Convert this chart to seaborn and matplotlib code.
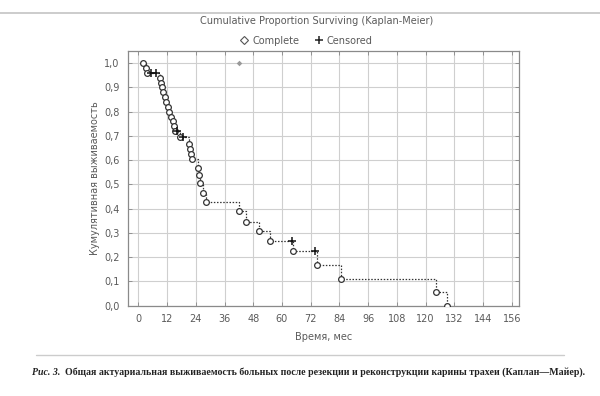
import matplotlib
matplotlib.use("Agg")
import matplotlib.pyplot as plt
import seaborn as sns
import pandas as pd
from matplotlib.lines import Line2D

# ---- data ----
complete_t = [2.0, 3.0, 3.5, 9.0, 9.3, 9.7, 10.3, 11.0, 11.7, 12.3, 13.0, 13.8, 14.4, 14.7,
              15.3, 17.4, 21.3, 21.6, 21.8, 22.3, 25.0, 25.4, 25.6, 27.2, 28.3,
              42.0, 45.0, 50.2, 55.0, 64.8, 74.8, 84.6, 124.5, 129.0]
complete_s = [1.00, 0.98, 0.96, 0.94, 0.92, 0.90, 0.88, 0.86, 0.84, 0.82, 0.80, 0.78, 0.76, 0.74,
              0.72, 0.697, 0.665, 0.645, 0.627, 0.606, 0.566, 0.537, 0.507, 0.466, 0.427,
              0.392, 0.347, 0.307, 0.268, 0.224, 0.168, 0.110, 0.055, 0.0]
censored_t = [5.3, 7.3, 16.0, 18.6, 64.0, 73.9]
censored_s = [0.96, 0.96, 0.72, 0.697, 0.268, 0.224]
stray_t = [42.0]
stray_s = [1.0]

x_ticks = [0, 12, 24, 36, 48, 60, 72, 84, 96, 108, 120, 132, 144, 156]
y_ticks = [0.0, 0.1, 0.2, 0.3, 0.4, 0.5, 0.6, 0.7, 0.8, 0.9, 1.0]

title = "Cumulative Proportion Surviving (Kaplan-Meier)"
xlabel = "Время, мес"
ylabel = "Кумулятивная выживаемость"
caption_a = "Рис. 3."
caption_b = "Общая актуариальная выживаемость больных после резекции и реконструкции карины трахеи (Каплан—Майер)."

# ---- frames ----
comp = pd.DataFrame({"t": complete_t, "s": complete_s})
cens = pd.DataFrame({"t": censored_t, "s": censored_s})
allp = pd.concat([comp, cens]).sort_values(["t", "s"], ascending=[True, False]).reset_index(drop=True)

sns.set_theme(style="white")
plt.rcParams['font.family'] = ['DejaVu Sans']
txt = "#5a5a5a"

fig = plt.figure(figsize=(6.0, 3.96), dpi=100)
ax = fig.add_axes([0.213, 0.228, 0.652, 0.643])

sns.lineplot(data=allp, x="t", y="s", estimator=None, sort=False, drawstyle="steps-post",
             color="#333333", linestyle=(0, (1.2, 1.3)), linewidth=0.9, ax=ax, zorder=2)
sns.scatterplot(data=comp, x="t", y="s", marker="o", s=17, facecolor="white",
                edgecolor="#333333", linewidth=0.9, ax=ax, zorder=3)
sns.scatterplot(data=cens, x="t", y="s", marker="+", s=28, color="#111111",
                linewidth=1.1, ax=ax, zorder=4)
sns.scatterplot(x=stray_t, y=stray_s, marker="D", s=8, color="#999999",
                linewidth=0, ax=ax, zorder=4)

ax.set_xlim(-4.4, 159)
ax.set_ylim(0.0, 1.05)
ax.set_xticks(x_ticks)
ax.set_yticks(y_ticks)
ax.set_xticklabels([str(v) for v in x_ticks])
ax.set_yticklabels([f"{v:.1f}".replace(".", ",") for v in y_ticks])
ax.grid(True, color="#cfcfcf", linewidth=0.8)
ax.set_axisbelow(True)
ax.tick_params(axis="both", direction="in", length=3, width=0.6, colors="#888888",
               labelcolor=txt, labelsize=7, top=True, right=True, bottom=True, left=True, pad=6)
for sp in ax.spines.values():
    sp.set_color("#8a8a8a")
    sp.set_linewidth(0.9)
ax.set_xlabel(xlabel, fontsize=7, color=txt, labelpad=6)
ax.set_ylabel(ylabel, fontsize=7, color=txt, labelpad=3)

fig.text(0.528, 0.948, title, ha="center", va="center", fontsize=7, color=txt)
handles = [Line2D([], [], marker="D", linestyle="none", markerfacecolor="white",
                  markeredgecolor="#555555", markersize=4, markeredgewidth=0.8),
           Line2D([], [], marker="+", linestyle="none", color="#222222", markersize=6,
                  markeredgewidth=1.1)]
fig.legend(handles, ["Complete", "Censored"], loc="center", bbox_to_anchor=(0.51, 0.897),
           ncol=2, frameon=False, fontsize=7, labelcolor=txt, handletextpad=0.3,
           columnspacing=1.5, handlelength=1.0)

# decorative page rules
fig.add_artist(Line2D([0.0, 1.0], [0.967, 0.967], color="#c4c4c4", linewidth=1.2))
fig.add_artist(Line2D([0.06, 0.94], [0.103, 0.103], color="#cccccc", linewidth=1.0))

fig.text(0.053, 0.06, caption_a, ha="left", va="center", fontsize=7.1, color="#222222",
         family="Liberation Serif", style="italic", weight="bold")
fig.text(0.108, 0.06, caption_b, ha="left", va="center", fontsize=7.1, color="#222222",
         family="Liberation Serif", weight="bold")

fig.savefig("out.png", dpi=100)
